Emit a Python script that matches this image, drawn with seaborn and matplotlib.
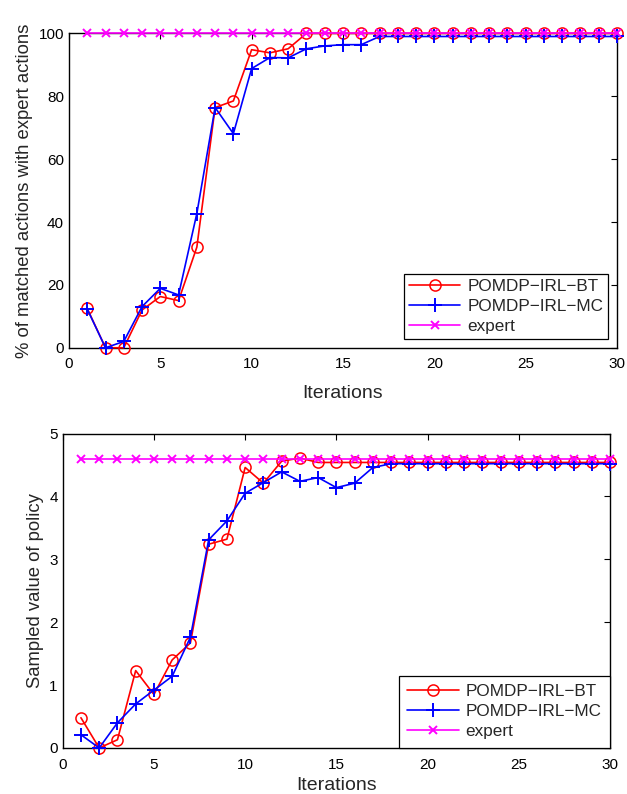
import numpy as np
import pandas as pd
import matplotlib
matplotlib.use('Agg')
import matplotlib.pyplot as plt
import seaborn as sns

iterations = list(range(1, 31))

# % of matched actions with expert actions
match_bt = [12.5, 0, 0, 12, 16.3, 15, 32, 76.4, 78.5, 94.8, 93.8, 95.1] + [100] * 18
match_mc = [12.3, 0, 2, 13.1, 18.9, 16.8, 42.7, 76.4, 68.1, 88.8, 92.3, 92.2,
            95.1, 96, 96.4, 96.4] + [99] * 14
match_expert = [100] * 30

# sampled value of policy
value_bt = [0.48, 0, 0.13, 1.23, 0.85, 1.40, 1.67, 3.24, 3.32, 4.46, 4.21, 4.56,
            4.61, 4.54, 4.54, 4.54] + [4.54] * 14
value_mc = [0.21, 0, 0.40, 0.70, 0.92, 1.14, 1.76, 3.31, 3.61, 4.05, 4.22, 4.39,
            4.24, 4.30, 4.14, 4.21, 4.46] + [4.52] * 13
value_expert = [4.6] * 30

labels = ['POMDP\u2212IRL\u2212BT', 'POMDP\u2212IRL\u2212MC', 'expert']

sns.set_style('white')
plt.rcParams['font.family'] = ['Liberation Sans', 'DejaVu Sans']
plt.rcParams['xtick.direction'] = 'in'
plt.rcParams['ytick.direction'] = 'in'
plt.rcParams['xtick.top'] = True
plt.rcParams['ytick.right'] = True
plt.rcParams['axes.edgecolor'] = 'black'
plt.rcParams['axes.linewidth'] = 1.0

fig = plt.figure(figsize=(6.27, 7.94), dpi=100)
ax1 = fig.add_axes([0.110, 0.562, 0.874, 0.396])
ax2 = fig.add_axes([0.100, 0.058, 0.873, 0.396])

styles = [dict(color='red', marker='o', markersize=8, markeredgewidth=1.1),
          dict(color='blue', marker='+', markersize=10, markeredgewidth=1.4),
          dict(color='magenta', marker='x', markersize=6, markeredgewidth=1.4)]


def draw(ax, series, ylim, yticks, ylabel, legend_pad, xlabelpad, borderpad):
    for vals, lab, st in zip(series, labels, styles):
        sns.lineplot(x=iterations, y=vals, ax=ax, label=lab, color=st['color'])
        line = ax.lines[-1]
        line.set_linestyle('-')
        line.set_linewidth(1.2)
        line.set_clip_on(False)
        line.set_marker(st['marker'])
        line.set_markersize(st['markersize'])
        line.set_markeredgecolor(st['color'])
        line.set_markeredgewidth(st['markeredgewidth'])
        line.set_markerfacecolor('none')
    ax.set_xlim(0, 30)
    ax.set_ylim(*ylim)
    ax.set_xticks(range(0, 31, 5))
    ax.set_yticks(yticks)
    ax.tick_params(labelsize=11, length=4, width=0.8, colors='black')
    ax.tick_params(axis='x', pad=7)
    ax.set_xlabel('Iterations', fontsize=14, labelpad=xlabelpad)
    ax.set_ylabel(ylabel, fontsize=13.3)
    for s in ax.spines.values():
        s.set_visible(True)
        s.set_zorder(0.5)
    leg = ax.legend(loc='lower right', fontsize=12.3, handlelength=3.0,
                    fancybox=False, edgecolor='black', framealpha=1,
                    borderaxespad=legend_pad, labelspacing=0.3,
                    borderpad=borderpad, handletextpad=0.4)
    leg.get_frame().set_linewidth(0.9)


draw(ax1, [match_bt, match_mc, match_expert], (0, 100), range(0, 101, 20),
     '% of matched actions with expert actions', 0.5, 10, 0.3)
draw(ax2, [value_bt, value_mc, value_expert], (0, 5), range(0, 6),
     'Sampled value of policy', 0.0, 3.5, 0.5)

fig.savefig('out.png', dpi=100)
